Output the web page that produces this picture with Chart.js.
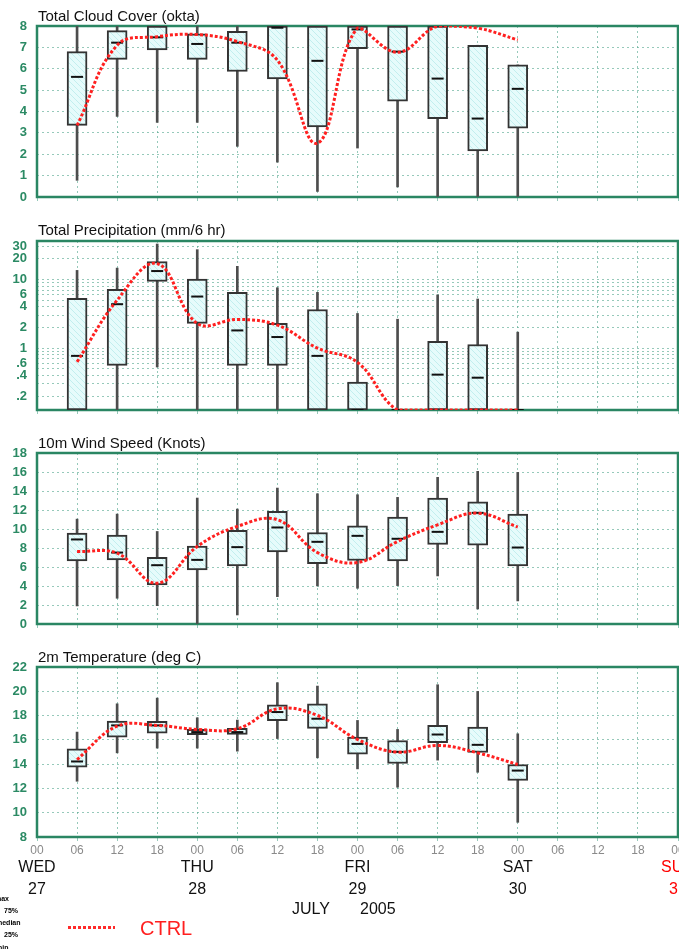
<!DOCTYPE html>
<html><head><meta charset="utf-8">
<script src="https://cdn.jsdelivr.net/npm/chart.js@4"></script>
<style>
html,body{margin:0;padding:0;background:#fff;}
body{width:679px;height:949px;position:relative;overflow:hidden;font-family:"Liberation Sans",Arial,sans-serif;}
canvas{position:absolute;left:0;}
.t{position:absolute;left:38px;font-size:15px;line-height:15px;color:#111;white-space:nowrap;}
.lab{position:absolute;font-size:16px;line-height:16px;color:#111;white-space:nowrap;}
.tiny{position:absolute;font-size:7px;line-height:7px;font-weight:bold;color:#000;white-space:nowrap;}
</style></head><body>
<canvas id="c1" width="679" height="198" style="top:12px"></canvas>
<canvas id="c2" width="679" height="197" style="top:226px"></canvas>
<canvas id="c3" width="679" height="198" style="top:439px"></canvas>
<canvas id="c4" width="679" height="250" style="top:653px"></canvas>
<div class="t" style="top:8px">Total Cloud Cover (okta)</div>
<div class="t" style="top:222px">Total Precipitation (mm/6 hr)</div>
<div class="t" style="top:435px">10m Wind Speed (Knots)</div>
<div class="t" style="top:649px">2m Temperature (deg C)</div>
<div class="lab" style="left:292px;top:901px">JULY</div>
<div class="lab" style="left:360px;top:901px">2005</div>
<div class="tiny" style="left:-5px;top:895px">max</div>
<div class="tiny" style="left:4px;top:907px">75%</div>
<div class="tiny" style="left:-4px;top:919px">median</div>
<div class="tiny" style="left:4px;top:931px">25%</div>
<div class="tiny" style="left:-4px;top:944px">min</div>
<div style="position:absolute;left:68px;top:926px;width:47px;height:3px;background:repeating-linear-gradient(90deg,#ff2a2a 0 3px,transparent 3px 5px);"></div>
<div style="position:absolute;left:140px;top:918px;font-size:20px;line-height:20px;color:#ff1f1f;">CTRL</div>
<script>
// ---- data ----
const hours = [6,12,18,24,30,36,42,48,54,60,66,72];
const dayPositions = [0,24,48,72,96];
const dayNames = ['WED','THU','FRI','SAT','SUN'];
const dayDates = ['27','28','29','30','31'];

const cloudMin = [0.78,3.77,3.49,3.49,2.37,1.63,0.26,2.29,0.47,0,0,0];
const cloudQ1  = [3.35,6.44,6.88,6.44,5.87,5.53,3.28,6.94,4.48,3.66,2.16,3.22];
const cloudMed = [5.62,7.22,7.47,7.16,7.22,7.92,6.37,7.84,6.8,5.54,3.67,5.06];
const cloudQ3  = [6.80,7.78,8,7.63,7.75,8,8,8,8,8,7.10,6.18];
const cloudMax = [8,8,8,8,8,8,8,8,8,8,7.10,6.18];
const cloudCtrl = [3.35,7.1,7.5,7.6,7.27,6.4,2.52,7.9,6.77,8.0,7.9,7.35];

const precipMin = [0,0,0.53,0,0,0,0,0,0,0,0,0];
const precipQ1  = [0,0.56,9.4,2.29,0.56,0.56,0,0,0,0,0,0];
const precipMed = [0.77,4.37,13.3,5.65,1.81,1.45,0.77,0,0,0.41,0.37,0];
const precipQ3  = [5.3,7.2,18.3,10.2,6.5,2.29,3.66,0.32,0,1.25,1.13,0];
const precipMax = [13.6,14.7,33,27.3,15.6,7.6,6.5,3.2,2.64,5.97,5.2,1.71];
const precipCtrl = [0.63,5.0,17.1,2.29,2.62,2.16,1.0,0.62,0,0,0,0];
const precipTickValues = [0.2,0.4,0.6,1,2,4,6,10,20,30];
const precipTickText = ['.2','.4','.6','1','2','4','6','10','20','30'];

const windMin = [1.90,2.71,1.93,0,0.95,2.88,4.01,3.76,4.04,5.06,1.58,2.43];
const windQ1  = [6.65,6.75,4.11,5.70,6.12,7.59,6.36,6.68,6.65,8.37,8.30,6.12];
const windMed = [8.90,7.52,6.19,6.75,8.09,10.16,8.65,9.28,8.97,9.70,11.7,8.05];
const windQ3  = [9.56,9.35,7.03,8.19,9.85,11.85,9.63,10.34,11.25,13.26,12.87,11.57];
const windMax = [11.04,11.57,9.74,13.26,12.10,14.31,13.71,13.61,13.33,15.44,16.07,15.96];
const windCtrl = [7.63,7.45,4.29,8.16,10.27,10.97,7.52,6.47,8.69,10.44,11.67,10.2];

const tempMin = [12.59,14.93,15.32,15.32,15.07,16.11,14.52,13.61,12.10,14.33,13.33,9.21];
const tempQ1  = [13.75,16.22,16.55,16.42,16.44,17.57,16.94,14.82,14.05,15.76,14.96,12.65];
const tempMed = [14.22,17.19,17.19,16.64,16.64,18.29,17.74,15.67,15.01,16.44,15.59,13.47];
const tempQ3  = [15.26,17.54,17.52,16.86,16.94,18.89,18.97,16.22,15.95,17.19,17.05,13.97];
const tempMax = [16.64,18.97,19.44,17.82,17.63,20.71,20.43,17.60,16.86,20.54,19.99,16.50];
const tempCtrl = [14.38,17.13,17.19,16.86,16.91,18.56,18.01,16.03,14.99,15.54,14.93,13.97];

// ---- styles ----
const GRID = 'rgba(80,165,140,0.6)';
const FRAME = '#2a8663';
const TICKCOL = '#2b8a64';
const FONT = '"Liberation Sans", Arial, sans-serif';

const hatch = (() => {
  const c = document.createElement('canvas'); c.width = 6; c.height = 6;
  const g = c.getContext('2d');
  g.fillStyle = '#e6fbfb'; g.fillRect(0,0,6,6);
  g.strokeStyle = '#c2eeee'; g.lineWidth = 1;
  g.beginPath(); g.moveTo(-1,-1); g.lineTo(7,7); g.stroke();
  return g.createPattern(c, 'repeat');
})();

const framePlugin = {
  id: 'frame',
  beforeDatasetsDraw(chart) {
    const {ctx, chartArea: a} = chart;
    ctx.save();
    ctx.strokeStyle = FRAME; ctx.lineWidth = 2.5;
    ctx.strokeRect(a.left, a.top, a.right - a.left, a.bottom - a.top);
    ctx.restore();
  }
};

const zeroPad = s => { s.paddingLeft = 0; s.paddingRight = 0; s.paddingTop = 0; s.paddingBottom = 0; };

function panel(id, o) {
  // values at or below the axis floor (e.g. zero rain on a log axis) are shown at the axis bottom
  const fl = v => (o.floor !== undefined && v < o.floor) ? o.floor : v;
  const pts = arr => hours.map((h,i) => ({x:h, y:fl(arr[i])}));
  const rng = (a,b) => hours.map((h,i) => ({x:h, y:[fl(a[i]), fl(b[i])]}));
  const xScale = {
    type:'linear', min:0, max:96, offset:false, weight:0,
    grid:{color:GRID, lineWidth:1, offset:false, drawTicks:true, tickLength:4, tickColor:GRID},
    border:{display:false, dash:[2,3]},
    ticks:{display:!!o.bottom, stepSize:6, autoSkip:false, maxRotation:0, padding:2,
      color:'#8a8a8a', font:{family:FONT, size:12},
      callback: v => String(v % 24).padStart(2,'0')},
    afterFit: s => { s.height = o.bottom ? 20 : 13; zeroPad(s); }
  };
  const yScale = Object.assign({
    grid:{color:GRID, lineWidth:1, drawTicks:false},
    border:{display:false, dash:[2,3]},
    ticks:{color:TICKCOL, padding:10, autoSkip:false, font:{family:FONT, size:13, weight:'bold'}},
    afterFit: s => { s.width = 37; zeroPad(s); }
  }, o.y);
  if (o.yTicks) Object.assign(yScale.ticks, o.yTicks);
  const scales = {x: xScale, y: yScale};
  if (o.bottom) {
    scales.x2 = {
      type:'linear', position:'bottom', min:0, max:96, offset:false, weight:1,
      grid:{display:false, drawTicks:false}, border:{display:false},
      afterBuildTicks: s => { s.ticks = dayPositions.map(v => ({value:v})); },
      ticks:{autoSkip:false, maxRotation:0, padding:0,
        font:{family:FONT, size:16, lineHeight:1.35},
        color: c => (c.tick && c.tick.value === 96) ? '#ff0000' : '#111',
        callback: (v,i) => [dayNames[i], dayDates[i]]},
      afterFit: s => { s.height = 46; zeroPad(s); }
    };
  }
  return new Chart(document.getElementById(id), {
    type:'bar',
    data:{datasets:[
      {type:'line', order:0, data:pts(o.ctrl), borderColor:'#ff2020', borderWidth:3, borderDash:[3,2],
        pointRadius:0, tension:0.4, fill:false},
      {type:'scatter', order:1, data:pts(o.med), pointStyle:'line', pointRadius:6, pointBorderWidth:2,
        pointBorderColor:'#111', borderColor:'#111', backgroundColor:'#111'},
      {type:'bar', order:2, data:rng(o.q1,o.q3), backgroundColor:hatch, borderColor:'#333', borderWidth:2,
        borderSkipped:false, barThickness:20, grouped:false},
      {type:'bar', order:3, data:rng(o.min,o.max), backgroundColor:'#4d4d4d', borderWidth:0,
        barThickness:2, grouped:false}
    ]},
    options:{
      responsive:false, animation:false, devicePixelRatio:1, events:[],
      layout:{autoPadding:false, padding:{top:o.padTop, right:1, left:0, bottom:0}},
      plugins:{legend:{display:false}, tooltip:{enabled:false}, title:{display:false}},
      scales
    },
    plugins:[framePlugin]
  });
}

panel('c1', {padTop:14, min:cloudMin, q1:cloudQ1, med:cloudMed, q3:cloudQ3, max:cloudMax, ctrl:cloudCtrl,
  y:{type:'linear', min:0, max:8}, yTicks:{stepSize:1}});

const PRECIP_MIN = 0.125, PRECIP_MAX = 36.5;
const precipGrid = [];
[0.1,1,10].forEach(d => { for (let m=1;m<=9;m++){ const v = Number((m*d).toPrecision(3)); if (v>=PRECIP_MIN && v<=PRECIP_MAX) precipGrid.push(v); } });
panel('c2', {padTop:15, floor:PRECIP_MIN, min:precipMin, q1:precipQ1, med:precipMed, q3:precipQ3, max:precipMax, ctrl:precipCtrl,
  y:{type:'logarithmic', min:PRECIP_MIN, max:PRECIP_MAX,
     afterBuildTicks: s => { s.ticks = precipGrid.map(v => ({value:v})); }},
  yTicks:{callback: v => { const i = precipTickValues.indexOf(v); return i >= 0 ? precipTickText[i] : ''; }}});

panel('c3', {padTop:14, min:windMin, q1:windQ1, med:windMed, q3:windQ3, max:windMax, ctrl:windCtrl,
  y:{type:'linear', min:0, max:18}, yTicks:{stepSize:2}});

panel('c4', {padTop:14, bottom:true, min:tempMin, q1:tempQ1, med:tempMed, q3:tempQ3, max:tempMax, ctrl:tempCtrl,
  y:{type:'linear', min:8, max:22}, yTicks:{stepSize:2}});
</script>
</body></html>
